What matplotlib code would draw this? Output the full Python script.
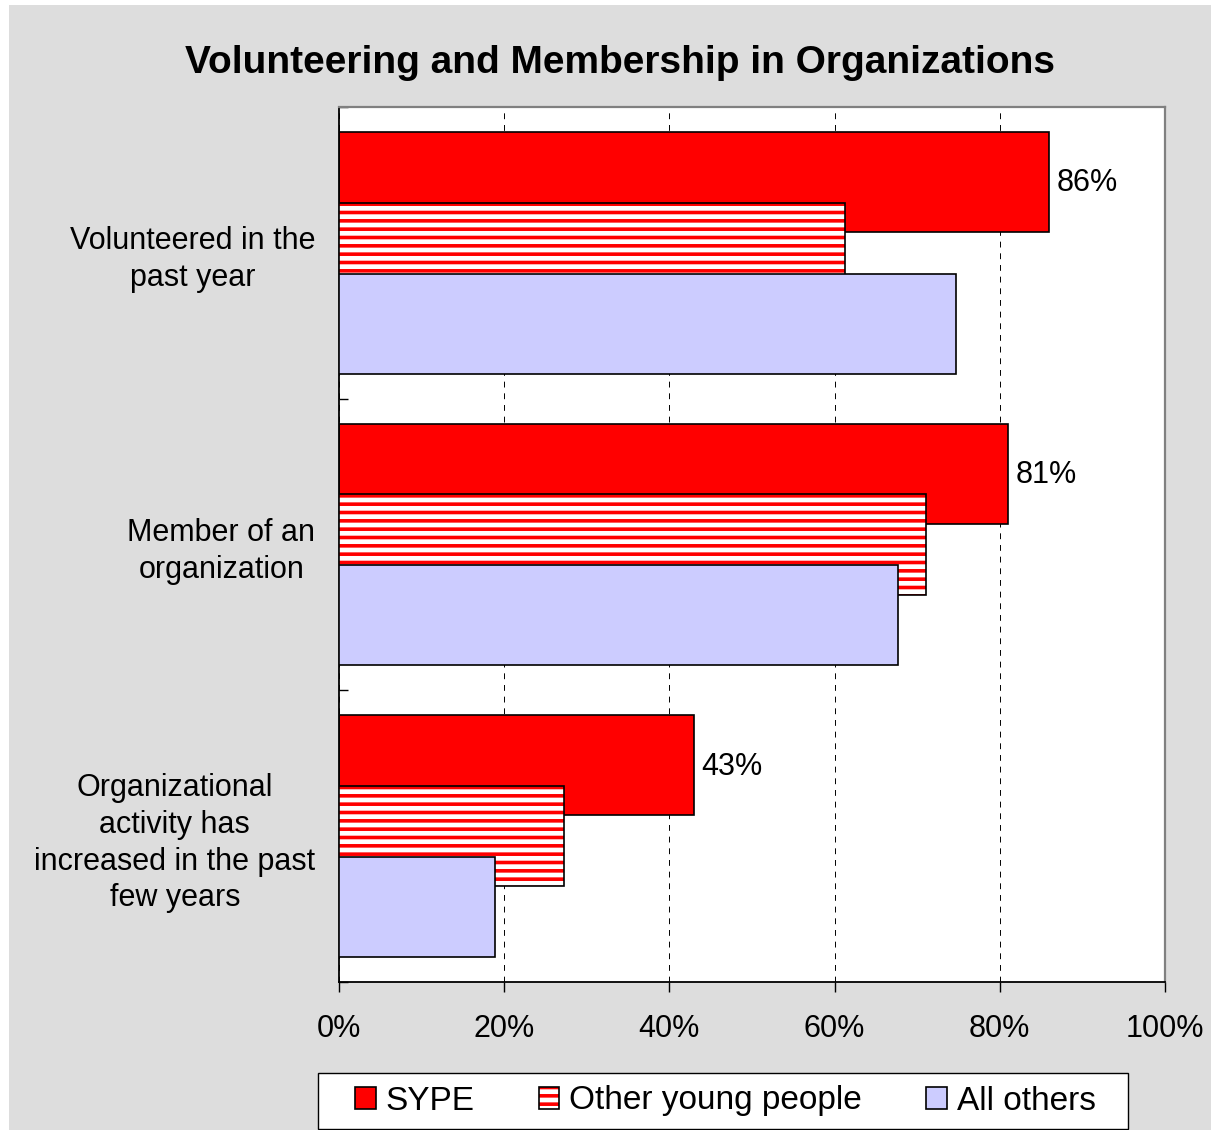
import numpy as np
import matplotlib
matplotlib.use("Agg")
import matplotlib.pyplot as plt
from matplotlib.patches import Patch, Rectangle

plt.rcParams['font.family'] = ['Liberation Sans', 'DejaVu Sans']
plt.rcParams['hatch.linewidth'] = 2.6

# data (percent)
CATEGORIES = ["Volunteered in the\npast year",
              "Member of an\norganization",
              "Organizational\nactivity has\nincreased in the past\nfew years"]
SERIES = ["SYPE", "Other young people", "All others"]
SYPE = [86, 81, 43]
OTHER_YOUNG = [61.2, 71.1, 27.2]
ALL_OTHERS = [74.7, 67.7, 18.9]
XTICKS = [0, 20, 40, 60, 80, 100]

RED = "#FF0000"
LAVENDER = "#CCCCFF"
GRAY_BG = "#DDDDDD"
FS = 22

W, H = 1211, 1130
fig = plt.figure(figsize=(W / 100, H / 100), dpi=100, facecolor="white")
# gray chart area (small white strip left/top like the original export)
fig.patches.append(Rectangle((9 / W, 0), 1, 1 - 5 / H, transform=fig.transFigure,
                             facecolor=GRAY_BG, edgecolor="none", zorder=-10))

ax = fig.add_axes([339 / W, 1 - 982 / H, (1165 - 339) / W, (982 - 107) / H])
ax.set_facecolor("white")

y = np.arange(len(CATEGORIES))
h = 0.343
off = 0.243

ax.barh(y - off, SYPE, height=h, color=RED, edgecolor="black", linewidth=1.2, zorder=2)
# striped series: white fill with red horizontal hatch, then black outline
ax.barh(y, OTHER_YOUNG, height=h, color="white", edgecolor=RED, hatch="--",
        linewidth=0, zorder=3)
ax.barh(y, OTHER_YOUNG, height=h, fill=False, edgecolor="black", linewidth=1.2, zorder=3)
ax.barh(y + off, ALL_OTHERS, height=h, color=LAVENDER, edgecolor="black", linewidth=1.2, zorder=4)

for yi, v in zip(y, SYPE):
    ax.text(v + 0.9, yi - off + 0.005, f"{v:.0f}%", va="center", ha="left", fontsize=FS, zorder=5)

ax.set_xlim(0, 100)
ax.set_ylim(len(CATEGORIES) - 0.5, -0.5)
ax.set_xticks(XTICKS)
ax.set_xticklabels([f"{t}%" for t in XTICKS], fontsize=FS)
ax.tick_params(axis="x", direction="out", length=7, width=1, pad=16)

ax.set_yticks(y)
ax.set_yticklabels(CATEGORIES, fontsize=FS, multialignment="center", linespacing=1.3)
ax.tick_params(axis="y", which="major", length=0, pad=17)
ax.set_yticks(np.arange(len(CATEGORIES) + 1) - 0.5, minor=True)
ax.tick_params(axis="y", which="minor", direction="in", length=6.5, width=1)

ax.grid(axis="x", color="black", linestyle=(0, (6, 6)), linewidth=0.7, zorder=1)
ax.set_axisbelow(True)

for side in ["left", "bottom"]:
    ax.spines[side].set_color("black")
    ax.spines[side].set_linewidth(1.3)
for side in ["top", "right"]:
    ax.spines[side].set_color("#808080")
    ax.spines[side].set_linewidth(1.6)

fig.text(0.512, 0.944, "Volunteering and Membership in Organizations",
         ha="center", va="center", fontsize=28, fontweight="bold")

# legend box drawn separately so the entries can sit with Excel-like padding
fig.patches.append(Rectangle((318 / W, 1 - 1129 / H), 810 / W, 56 / H,
                             transform=fig.transFigure, facecolor="white",
                             edgecolor="black", linewidth=1.0, zorder=5))
handles = [Patch(facecolor=RED, edgecolor="black", linewidth=1.2),
           (Patch(facecolor="white", edgecolor=RED, hatch="--", linewidth=0),
            Patch(fill=False, edgecolor="black", linewidth=1.2)),
           Patch(facecolor=LAVENDER, edgecolor="black", linewidth=1.2)]
leg = fig.legend(handles, SERIES, loc="center left",
                 bbox_to_anchor=(355 / W, 1 - 1101 / H, 741 / W, 0),
                 mode="expand", ncol=3, fontsize=24, frameon=False,
                 handlelength=0.62, handleheight=0.62, handletextpad=0.3,
                 borderpad=0, borderaxespad=0)
leg.set_zorder(6)

fig.savefig("out.png", dpi=100, facecolor=fig.get_facecolor())
